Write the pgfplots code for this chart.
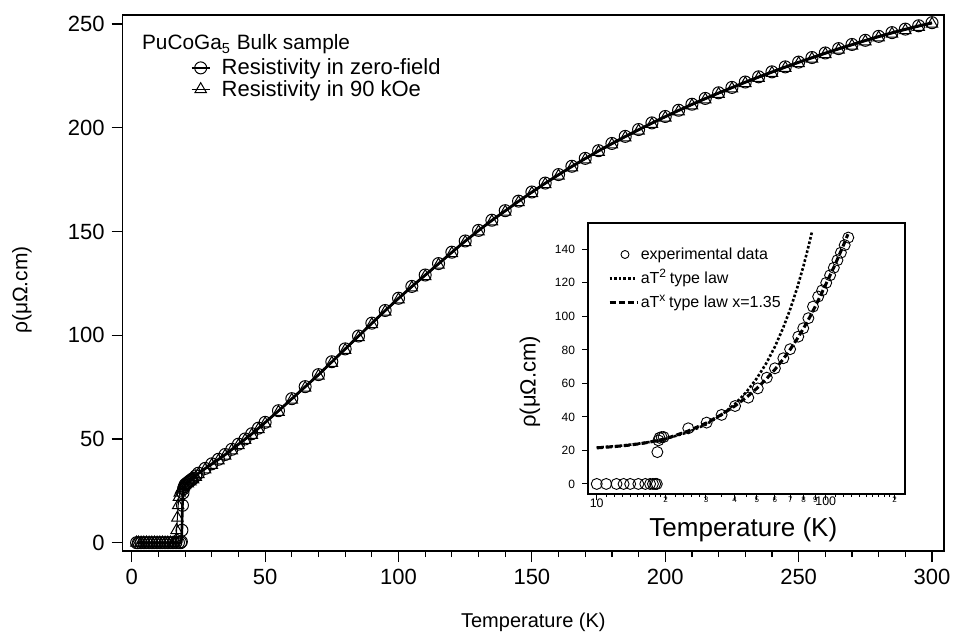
\documentclass[border=0pt]{standalone}
\usepackage{fontspec}
\setmainfont{Liberation Sans}
\usepackage{pgfplots}
\pgfplotsset{compat=1.18}
\pgfplotsset{circlelegend/.style={legend image code/.code={\draw[##1] plot coordinates {(7.7pt,-0.4pt)}; \path[draw=none,fill=none] (0pt,-2.85pt) rectangle (15.6pt,2.85pt);}}}
\begin{document}
\begin{tikzpicture}
\useasboundingbox (-61.35pt,-45.5pt) rectangle (417.15pt,275.5pt);
\begin{axis}[
  scale only axis, width=410.65pt, height=268pt,
  xmin=-3.4, xmax=304.5, ymin=-4, ymax=254.3,
  axis line style={line width=0.8pt},
  tick align=outside, tick pos=left,
  xtick={0,50,...,300}, ytick={0,50,...,250},
  minor x tick num=4,
  major tick length=5.5pt, minor tick length=3pt,
  every tick/.style={black, line width=0.6pt},
  tick label style={font=\fontsize{11}{13}\selectfont},
  /pgf/number format/assume math mode=true,
  xlabel={Temperature (K)}, ylabel={ρ(μΩ.cm)},
  label style={font=\fontsize{10}{12}\selectfont},
  xlabel style={at={(axis description cs:0.5,0)}, anchor=center, yshift=-35.5pt},
  ylabel style={font=\fontsize{10.5}{12}\selectfont, at={(axis description cs:-0.1226,0.487)}, anchor=center},
  legend style={at={(rel axis cs:0,1)}, anchor=north west, xshift=33.65pt, yshift=-21.8pt,
    draw=none, fill=none, inner sep=0pt, row sep=2.8pt, column sep=0pt,
    font=\fontsize{11}{13}\selectfont,
    nodes={inner sep=0pt, text height=7.9pt, text depth=0pt}},
  legend cell align=left,
  legend image code/.code={\draw[mark repeat=2,mark phase=2,#1] plot coordinates {(0pt,-0.5pt) (4.5pt,-0.5pt) (9pt,-0.5pt)}; \path[draw=none,fill=none] (0pt,-3.95pt) rectangle (15pt,3.95pt);},
]
\addplot[black, line width=1.3pt, mark=o, mark size=3pt, mark options={line width=0.5pt, solid},
  legend image post style={mark options={fill=white, line width=0.5pt}}]
coordinates {
(1.8,0)(2.5,0)(3.5,0)(4.5,0)(5.5,0)(6.5,0)(7.5,0)(8.5,0)(9.5,0)(10.5,0)(11.5,0)(12.5,0)(13.5,0)(14.5,0)(15.5,0)(16.5,0)(17.5,0)(18.3,0)
(18.6,0.5)(18.8,6)(19.0,18)(19.2,24)(19.4,26)(19.7,27)(20,28)(20.5,28.5)(21,29)(21.5,29.5)(22,30)(22.5,30.5)(23,31)(24,32.2)(25,33.5)
(27.5,35.8)(30,38)(32.5,40.2)(35,42.5)(37.5,45)(40,47.5)(42.5,50)(45,52.5)(47.5,55.2)(50,58)(55,63.6)(60,69.4)(65,75.2)(70,81)(75,87.2)
(80,93.4)(85,99.6)(90,105.8)(95,111.9)(100,117.8)(105,123.5)(110,129)(115,134.5)(120,140)(125,145.4)(130,150.5)(135,155.4)(140,160)
(145,164.6)(150,169)(155,173.3)(160,177.4)(165,181.4)(170,185.2)(175,188.9)(180,192.4)(185,195.8)(190,199.1)(195,202.3)(200,205.4)
(205,208.4)(210,211.3)(215,214.1)(220,216.8)(225,219.4)(230,222)(235,224.5)(240,226.9)(245,229.3)(250,231.6)(255,233.8)(260,236)
(265,238.1)(270,240.1)(275,242.1)(280,244)(285,245.8)(290,247.5)(295,249.1)(300,250.6)
};
\addlegendentry{Resistivity in zero-field}
\addplot[black, line width=0.5pt, mark=triangle, mark size=3.3pt, mark options={solid},
  legend image post style={mark options={fill=white}}]
coordinates {
(1.8,0)(2.5,0)(3.5,0)(4.5,0)(5.5,0)(6.5,0)(7.5,0)(8.5,0)(9.5,0)(10.5,0)(11.5,0)(12.5,0)(13.5,0)(14.5,0)(15.5,0)(16,0)
(16.5,1)(16.8,6)(17.1,12)(17.4,18)(17.7,22)(18,24)(18.5,25.5)(19,26.5)(19.5,27.2)(20,27.6)(21,28.5)(22,29.4)(23,30.4)(24,31.6)(25,32.9)
(27.5,35.2)(30,37.4)(32.5,39.6)(35,41.9)(37.5,44.4)(40,46.9)(42.5,49.4)(45,51.9)(47.5,54.6)(50,57.4)(55,63)(60,68.8)(65,74.6)(70,80.4)(75,86.6)
(80,92.8)(85,99)(90,105.2)(95,111.3)(100,117.2)(105,122.9)(110,128.4)(115,133.9)(120,139.4)(125,144.8)(130,149.9)(135,154.8)(140,159.4)
(145,164)(150,168.4)(155,172.7)(160,176.8)(165,180.8)(170,184.6)(175,188.3)(180,191.8)(185,195.2)(190,198.5)(195,201.7)(200,204.8)
(205,207.8)(210,210.7)(215,213.5)(220,216.2)(225,218.8)(230,221.4)(235,223.9)(240,226.3)(245,228.7)(250,231)(255,233.2)(260,235.4)
(265,237.5)(270,239.5)(275,241.5)(280,243.4)(285,245.2)(290,246.9)(295,248.5)(300,250)
};
\addlegendentry{Resistivity in 90 kOe}
\node[anchor=base west, inner sep=0pt, font=\fontsize{10.4}{12}\selectfont] at (rel axis cs:0,1) [xshift=9.5pt, yshift=-17.5pt] {PuCoGa\textsubscript{5} Bulk sample};
\end{axis}

\begin{axis}[
  at={(232.65pt,28.5pt)}, anchor=south west,
  scale only axis, width=158.5pt, height=135.5pt,
  xmode=log, xmin=9.16, xmax=222, ymin=-6, ymax=155.7,
  axis background/.style={fill=white},
  axis line style={line width=0.8pt},
  tick align=outside, tick pos=left,
  xtick={10,20,30,40,50,60,70,80,90,100,200},
  xticklabels={\raisebox{-5.5pt}{\fontsize{6.2}{6.2}\selectfont 10},2,3,4,5,6,7,8,9,\raisebox{-4.5pt}{\fontsize{6.2}{6.2}\selectfont 100},2},
  x tick label style={font=\fontsize{4}{4}\selectfont, inner sep=0.6pt, yshift=2.5pt},
  minor xtick={11,12,13,14,15,16,17,18,19,22,24,26,28,35,45,110,120,130,140,150,160,170,180,190},
  ytick={0,20,...,140},
  y tick label style={font=\fontsize{6}{7}\selectfont},
  /pgf/number format/assume math mode=true,
  major tick length=3pt, minor tick length=1.6pt,
  every tick/.style={black, line width=0.5pt},
  xlabel={Temperature (K)}, ylabel={ρ(μΩ.cm)},
  xlabel style={font=\fontsize{13}{15}\selectfont, at={(axis description cs:0.49,-0.133)}, anchor=center},
  ylabel style={font=\fontsize{11}{13}\selectfont, at={(axis description cs:-0.183,0.414)}, anchor=center},
  legend style={at={(rel axis cs:0,1)}, anchor=north west, xshift=9.85pt, yshift=-12.3pt,
    draw=none, fill=none, inner sep=0pt, row sep=6.3pt, column sep=0pt,
    font=\fontsize{8}{9}\selectfont,
    nodes={inner sep=0pt, text height=5.7pt, text depth=0pt}},
  legend cell align=left,
  legend image code/.code={\draw[#1] plot coordinates {(0pt,-0.4pt) (13.7pt,-0.4pt)}; \path[draw=none,fill=none] (0pt,-2.85pt) rectangle (14.8pt,2.85pt);},
]
\addplot[only marks, black, mark=o, mark size=2.75pt, mark options={line width=0.45pt},
  circlelegend, legend image post style={mark size=2pt}]
coordinates {
(10,0)(11,0)(12.2,0)(13.1,0)(14,0)(15.2,0)(16.3,0)(17.1,0)(17.6,0)(18,0)(18.3,0)(18.4,19)(18.6,26)(18.8,27.5)(19.2,28)(19.6,28)
(25.1,33.2)(30.2,36.6)(35.1,41.2)(40.2,46.5)(45.9,51.5)(50.5,57)(55.3,63.4)(60,69)(65.3,75)(69.9,80.4)(75.9,87.9)(79.8,92.9)
(84,98.9)(88,105.8)(92.7,111.8)(96.5,115.5)(100.5,120)(104.5,124.5)(108.5,129)(112.5,133.5)(116.5,138)(121,142.5)(125.5,147)
};
\addlegendentry{experimental data}
\addplot[black, line width=1.3pt, densely dotted]
coordinates {
(10,21.7)(12.5,22.7)(15,23.9)(17.5,25.3)(20,26.9)(25,30.8)(30,35.5)(35,41.1)(40,47.5)(45,54.8)(50,63)(55,72)(60,81.9)
(65,92.7)(70,104.3)(75,116.8)(80,130.1)(85,144.3)(87,150.2)
};
\addlegendentry{aT\textsuperscript{2}\,type law}
\addplot[black, line width=1.5pt, dash pattern=on 3pt off 1.5pt]
coordinates {
(10,21.5)(12,22.3)(14,23.2)(16,24.3)(18,25.6)(20,27)(25,31.5)(30,36.3)(35,41.3)(40,46.4)(45,51.6)(50,57)(55,62.6)(60,68.3)
(65,74.2)(70,80.3)(75,86.5)(80,92.8)(85,99.3)(90,105.9)(95,112.5)(100,119)(110,131)(120,143)(125,149)
};
\addlegendentry{aT\textsuperscript{x}\,type law x=1.35}
\end{axis}
\end{tikzpicture}
\end{document}
